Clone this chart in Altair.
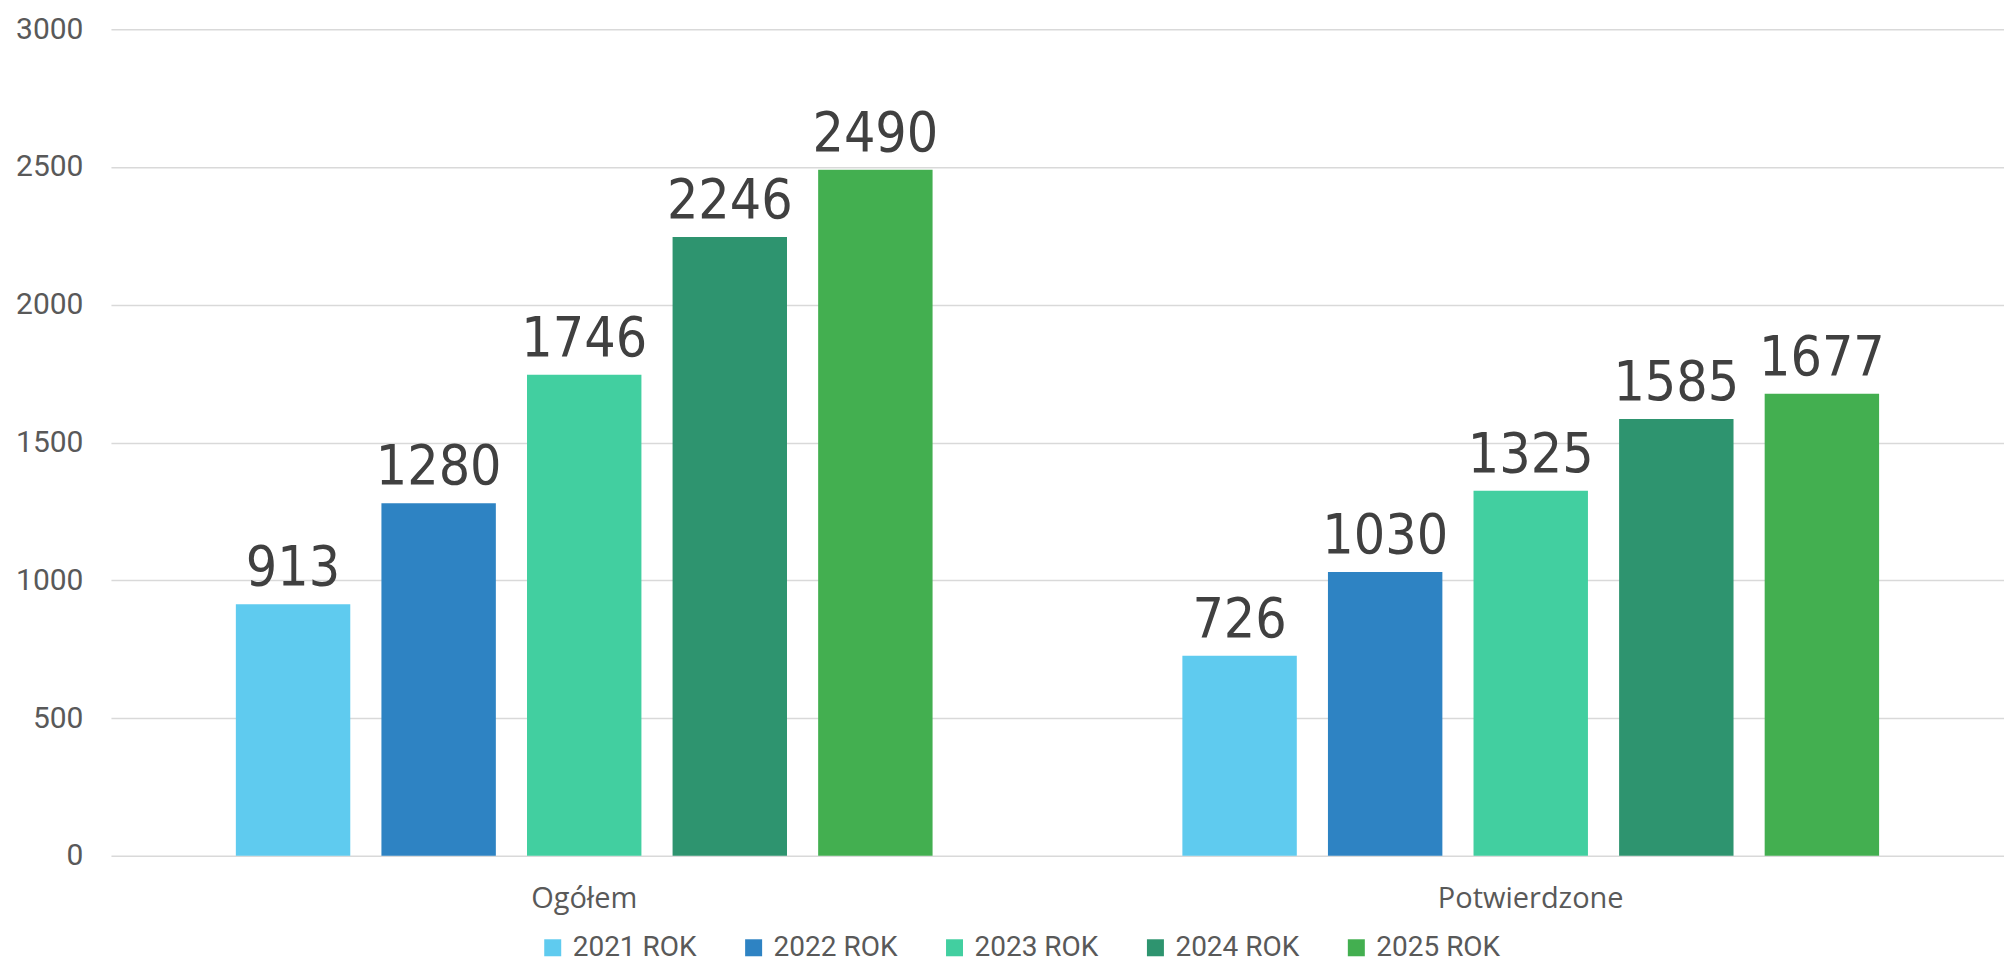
import altair as alt
import pandas as pd

categories = ["Ogółem", "Potwierdzone"]
years = ["2021 ROK", "2022 ROK", "2023 ROK", "2024 ROK", "2025 ROK"]
values_ogolem = [913, 1280, 1746, 2246, 2490]
values_potwierdzone = [726, 1030, 1325, 1585, 1677]
colors = ["#5FCBEF", "#2E83C3", "#42CFA0", "#2E946F", "#43AF50"]

rows = []
for y, v in zip(years, values_ogolem):
    rows.append({"kategoria": categories[0], "rok": y, "wartosc": v})
for y, v in zip(years, values_potwierdzone):
    rows.append({"kategoria": categories[1], "rok": y, "wartosc": v})
df = pd.DataFrame(rows)

x_enc = alt.X(
    "kategoria:N",
    sort=categories,
    scale=alt.Scale(paddingInner=0, paddingOuter=0),
    axis=alt.Axis(
        title=None, labelAngle=0, labelFont="Open Sans", labelFontSize=29,
        labelColor="#595959", domain=False, ticks=False, labelPadding=29,
        labelLimit=0, grid=False,
    ),
)
xoff = alt.XOffset(
    "rok:N", sort=years,
    scale=alt.Scale(paddingInner=0.214, paddingOuter=0.858),
)
y_enc = alt.Y(
    "wartosc:Q",
    scale=alt.Scale(domain=[0, 3000], nice=False),
    axis=alt.Axis(
        title=None, values=[0, 500, 1000, 1500, 2000, 2500, 3000], format="d",
        labelFont="Roboto", labelFontSize=30, labelColor="#595959",
        domain=False, ticks=False, labelPadding=28,
        gridColor="#D9D9D9", gridWidth=1.5,
    ),
)

bars = alt.Chart(df).mark_bar().encode(
    x=x_enc,
    xOffset=xoff,
    y=y_enc,
    color=alt.Color(
        "rok:N", sort=years,
        scale=alt.Scale(domain=years, range=colors),
        legend=alt.Legend(
            title=None, orient="none", direction="horizontal",
            legendX=428, legendY=905,
            symbolType="square", symbolSize=289, symbolStrokeWidth=0,
            labelFont="Roboto", labelFontSize=28, labelColor="#595959",
            labelOffset=6, columnPadding=43,
        ),
    ),
)

labels = alt.Chart(df).mark_text(
    baseline="alphabetic", dy=-19, fontSize=55,
    font="Liberation Sans Narrow, DejaVu Sans Condensed, sans-serif",
    color="#404040",
).encode(
    x=alt.X("kategoria:N", sort=categories),
    xOffset=alt.XOffset("rok:N", sort=years),
    y=alt.Y("wartosc:Q"),
    text="wartosc:Q",
)

chart = (
    alt.layer(bars, labels)
    .properties(
        width=1894, height=827,
        padding={"left": 7, "top": 6, "right": 0, "bottom": 0},
        background="white",
    )
    .configure_view(stroke=None, strokeWidth=0)
    .configure_axis(domain=False, ticks=False)
    .configure_axisX(grid=False)
)

chart.save("out.html", embed_options={"renderer": "svg", "actions": False})
